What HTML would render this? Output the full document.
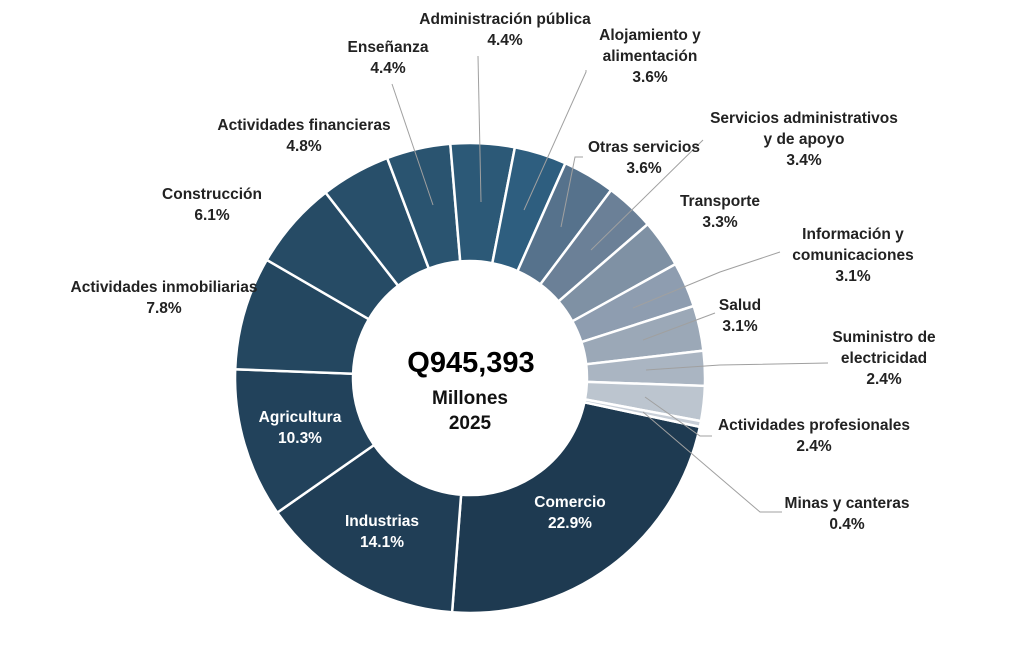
<!DOCTYPE html>
<html><head><meta charset="utf-8"><style>
body{margin:0;background:#fff;width:1024px;height:656px;overflow:hidden;font-family:"Liberation Sans",sans-serif;}
svg{position:absolute;left:0;top:0}
.l{position:absolute;font-weight:bold;font-size:15.5px;color:#222;text-align:center;line-height:21px;white-space:nowrap;transform:translateX(-50%)}
.w{color:#fff}
</style></head><body>
<svg id="s" width="1024" height="656"></svg>
<div class="l" style="left:505px;top:9px">Administración pública<br>4.4%</div>
<div class="l" style="left:388px;top:37px">Enseñanza<br>4.4%</div>
<div class="l" style="left:650px;top:25px">Alojamiento y<br>alimentación<br>3.6%</div>
<div class="l" style="left:304px;top:115px">Actividades financieras<br>4.8%</div>
<div class="l" style="left:644px;top:137px">Otras servicios<br>3.6%</div>
<div class="l" style="left:804px;top:108px">Servicios administrativos<br>y de apoyo<br>3.4%</div>
<div class="l" style="left:212px;top:184px">Construcción<br>6.1%</div>
<div class="l" style="left:720px;top:191px">Transporte<br>3.3%</div>
<div class="l" style="left:853px;top:224px">Información y<br>comunicaciones<br>3.1%</div>
<div class="l" style="left:164px;top:277px">Actividades inmobiliarias<br>7.8%</div>
<div class="l" style="left:740px;top:295px">Salud<br>3.1%</div>
<div class="l" style="left:884px;top:327px">Suministro de<br>electricidad<br>2.4%</div>
<div class="l" style="left:814px;top:415px">Actividades profesionales<br>2.4%</div>
<div class="l" style="left:847px;top:493px">Minas y canteras<br>0.4%</div>
<div class="l w" style="left:300px;top:407px">Agricultura<br>10.3%</div>
<div class="l w" style="left:382px;top:511px">Industrias<br>14.1%</div>
<div class="l w" style="left:570px;top:492px">Comercio<br>22.9%</div>
<div class="l" style="left:471px;top:346px;font-size:29px;line-height:34px;color:#000">Q945,393</div>
<div class="l" style="left:470px;top:386px;font-size:19px;line-height:25px;color:#111">Millones<br>2025</div>
<script>
var d=[[22.9,"#1e3a51"],[14.1,"#203e56"],[10.3,"#22425b"],[7.8,"#244760"],[6.1,"#264b65"],[4.8,"#284f6a"],[4.4,"#2a5470"],[4.4,"#2c5977"],[3.6,"#2e5e7f"],[3.6,"#56728c"],[3.4,"#6b8097"],[3.3,"#7f91a4"],[3.1,"#8e9db0"],[3.1,"#9ba8b7"],[2.4,"#aab5c2"],[2.4,"#bcc5cf"],[0.4,"#c8cfd8"]];
var cx=470,cy=378,R=235,r=117,a=12*Math.PI/180,h="";
function p(rr,t){return (cx+rr*Math.cos(t)).toFixed(1)+","+(cy+rr*Math.sin(t)).toFixed(1)}
d.forEach(function(e){var b=a+e[0]/100.1*2*Math.PI,lg=(b-a)>Math.PI?1:0;
h+='<path d="M'+p(R,a)+' A'+R+','+R+' 0 '+lg+' 1 '+p(R,b)+' L'+p(r,b)+' A'+r+','+r+' 0 '+lg+' 0 '+p(r,a)+' Z" fill="'+e[1]+'" stroke="#fff" stroke-width="2.5"/>';a=b;});
var L=[[392,84,433,205],[478,56,481,202],[586,70,586,72,524,210],[583,157,575,157,561,227],[703,140,591,250],[780,252,720,272,633,308],[715,313,643,340],[828,363,720,365,646,370],[712,436,700,436,645,397],[782,512,760,512,643,412]];
L.forEach(function(q){var s="M"+q[0]+","+q[1];for(var i=2;i<q.length;i+=2)s+=" L"+q[i]+","+q[i+1];h+='<path d="'+s+'" fill="none" stroke="#a0a0a0" stroke-width="1"/>';});
document.getElementById("s").innerHTML=h;
</script>
</body></html>
